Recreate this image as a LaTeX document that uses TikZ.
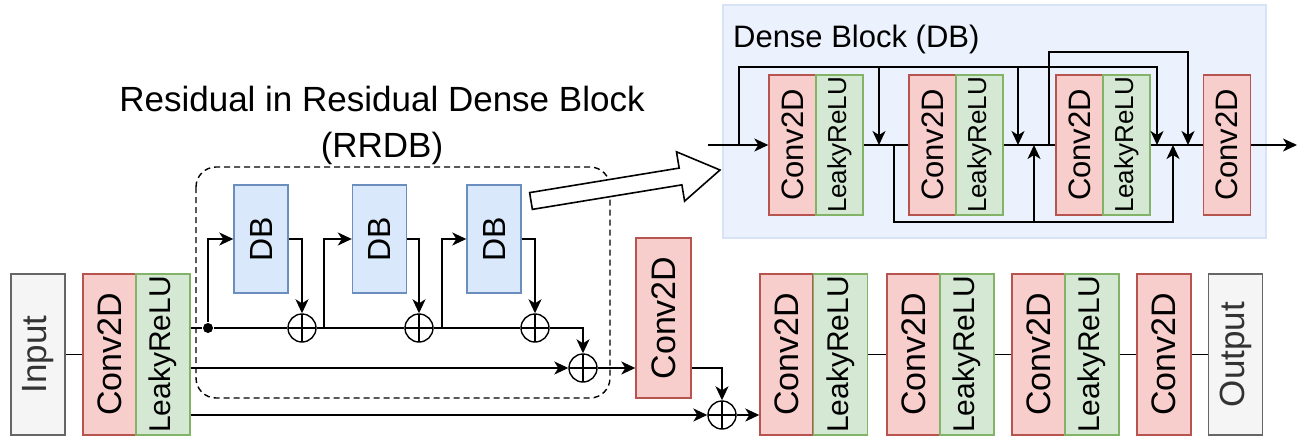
\documentclass[tikz,border=0pt]{standalone}
\usepackage{fontspec}
\setmainfont{Liberation Sans}
\usepackage{graphicx}
\usetikzlibrary{calc,arrows.meta}
\definecolor{convfill}{HTML}{F8CECC}
\definecolor{convdraw}{HTML}{B85450}
\definecolor{relufill}{HTML}{D5E8D4}
\definecolor{reludraw}{HTML}{82B366}
\definecolor{dbfill}{HTML}{DAE8FC}
\definecolor{dbdraw}{HTML}{6C8EBF}
\definecolor{iofill}{HTML}{F5F5F5}
\definecolor{iodraw}{HTML}{666666}
\definecolor{iotext}{HTML}{333333}
\definecolor{bgfill}{HTML}{EBF2FD}
\definecolor{bgdraw}{HTML}{D8E4F6}
\newcommand{\vtext}[1]{\rotatebox{90}{#1}}

\begin{document}
\begin{tikzpicture}[x=1pt,y=-1pt,line width=1.6pt,
  box/.style={draw,inner sep=0pt,line width=1.4pt},
  conv/.style={box,fill=convfill,draw=convdraw,minimum width=53,minimum height=161,font=\fontsize{34}{40}\selectfont},
  relu/.style={box,fill=relufill,draw=reludraw,minimum width=54,minimum height=161,font=\fontsize{30}{36}\selectfont},
  io/.style={box,fill=iofill,draw=iodraw,text=iotext,minimum width=54,minimum height=161,font=\fontsize{35}{40}\selectfont},
  dbbox/.style={box,fill=dbfill,draw=dbdraw,minimum width=54,minimum height=108,font=\fontsize{32}{38}\selectfont},
  dconv/.style={box,fill=convfill,draw=convdraw,minimum width=47,minimum height=140,font=\fontsize{31}{36}\selectfont},
  drelu/.style={box,fill=relufill,draw=reludraw,minimum width=47,minimum height=140,font=\fontsize{26}{30}\selectfont},
  plus/.style={circle,draw,inner sep=0pt,minimum size=28,line width=1.4pt,
    path picture={\draw[line width=1.4pt] (path picture bounding box.north) -- (path picture bounding box.south)
      (path picture bounding box.west) -- (path picture bounding box.east);}},
  dot/.style={circle,fill,inner sep=0pt,minimum size=10},
  arr/.style={-{Stealth[length=14pt,width=13pt,inset=4pt]}},
  title/.style={font=\fontsize{35}{46}\selectfont}]
\useasboundingbox (0,0) rectangle (1301,436);

% main line
\node[io] (in) at (38,354.5) {\vtext{Input}};
\node[conv] (c1) at (109.5,354.5) {\vtext{Conv2D}};
\node[relu] (l1) at (163,354.5) {\vtext{LeakyReLU}};
\draw (in) -- (c1);

% RRDB
\draw[dashed,dash pattern=on 6pt off 4pt,rounded corners=20,line width=1.4pt] (196,167) rectangle (610,398);
\node[title,anchor=north,align=center] (rrdbtitle) at (382,82) {Residual in Residual Dense Block\\(RRDB)};
\node[dbbox] (db1) at (261,239) {\vtext{DB}};
\node[dbbox] (db2) at (379.5,239) {\vtext{DB}};
\node[dbbox] (db3) at (494,239) {\vtext{DB}};
\node[plus] (p1) at (302,328) {};
\node[plus] (p2) at (419,328) {};
\node[plus] (p3) at (535,328) {};
\node[plus] (p4) at (583,368) {};
\node[dot] (dot) at (208,328) {};
\coordinate (br2) at (324,328);
\coordinate (br3) at (442,328);
\draw (l1.east |- dot) -- (dot) -- (p1);
\draw (p1) -- (p2);
\draw (p2) -- (p3);
\draw[arr] (p3) -| (p4);
\draw[arr] (dot) |- (db1);
\draw[arr] (db1) -| (p1);
\draw[arr] (br2) |- (db2);
\draw[arr] (db2) -| (p2);
\draw[arr] (br3) |- (db3);
\draw[arr] (db3) -| (p3);
\draw[arr] (l1.east |- p4) -- (p4);

% after RRDB
\node[conv,minimum width=55,minimum height=160] (c2) at (663.5,318) {\vtext{Conv2D}};
\node[plus] (p5) at (722,415) {};
\draw[arr] (p4) -- (p4 -| c2.west);
\draw[arr] (c2.east |- p4) -| (p5);
\draw[arr] (l1.east |- p5) -- (p5);

\node[conv] (c3) at (786.5,354.5) {\vtext{Conv2D}};
\node[relu] (l3) at (840.5,354.5) {\vtext{LeakyReLU}};
\node[conv] (c4) at (913.5,354.5) {\vtext{Conv2D}};
\node[relu] (l4) at (967,354.5) {\vtext{LeakyReLU}};
\node[conv] (c5) at (1038.5,354.5) {\vtext{Conv2D}};
\node[relu] (l5) at (1092,354.5) {\vtext{LeakyReLU}};
\node[conv,minimum width=54] (c6) at (1164,354.5) {\vtext{Conv2D}};
\node[io] (out) at (1235.5,354.5) {\vtext{Output}};
\draw[arr] (p5) -- (p5 -| c3.west);
\draw (l3) -- (c4);
\draw (l4) -- (c5);
\draw (l5) -- (c6);
\draw (c6) -- (out);

% dense block
\draw[fill=bgfill,draw=bgdraw,line width=1.4pt] (723,5) rectangle (1266,238);
\node[title,font=\fontsize{31}{36}\selectfont,anchor=base west] (dbtitle) at (729,48) {Dense Block (DB)};
\node[dconv] (dc1) at (792.5,145) {\vtext{Conv2D}};
\node[drelu] (dl1) at (839.5,145) {\vtext{LeakyReLU}};
\node[dconv] (dc2) at (932.5,145) {\vtext{Conv2D}};
\node[drelu] (dl2) at (979.5,145) {\vtext{LeakyReLU}};
\node[dconv] (dc3) at (1079.5,145) {\vtext{Conv2D}};
\node[drelu] (dl3) at (1126.5,145) {\vtext{LeakyReLU}};
\node[dconv] (dc4) at (1227,145) {\vtext{Conv2D}};
\coordinate (dbin) at (708,145);
\coordinate (dbout) at (1297,145);
\coordinate (b0) at (739,145);
\coordinate (b1) at (894,145);
\coordinate (b2) at (1049,145);
\coordinate (j1) at (879,145);
\coordinate (j2) at (1018,145);
\coordinate (j3) at (1157,145);
\coordinate (j4) at (1188,145);
\coordinate (u1) at (1034,145);
\coordinate (u2) at (1173,145);
\coordinate (topa) at (0,67);
\coordinate (topb) at (0,52);
\coordinate (bot) at (0,222);
\draw[arr] (dbin) -- (dc1);
\draw (dl1) -- (dc2);
\draw (dl2) -- (dc3);
\draw (dl3) -- (dc4);
\draw[arr] (dc4) -- (dbout);
\draw[arr] (b0) -- (b0 |- topa) -| (j3);
\draw[arr] (j1 |- topa) -- (j1);
\draw[arr] (j2 |- topa) -- (j2);
\draw[arr] (b2) -- (b2 |- topb) -| (j4);
\draw[arr] (b1) -- (b1 |- bot) -| (u2);
\draw[arr] (u1 |- bot) -- (u1);

% hollow arrow RRDB -> DB
\coordinate (hta) at (531,201);
\coordinate (htb) at (720,170);
\coordinate (hhb) at ($(htb)!40pt!(hta)$);
\draw[fill=white,line width=1.6pt,line join=miter]
  ($(hta)!8.5pt!90:(htb)$) -- ($(hhb)!8.5pt!-90:(hta)$) -- ($(hhb)!25pt!-90:(hta)$) -- (htb)
  -- ($(hhb)!25pt!90:(hta)$) -- ($(hhb)!8.5pt!90:(hta)$) -- ($(hta)!8.5pt!-90:(htb)$) -- cycle;
\end{tikzpicture}
\end{document}
